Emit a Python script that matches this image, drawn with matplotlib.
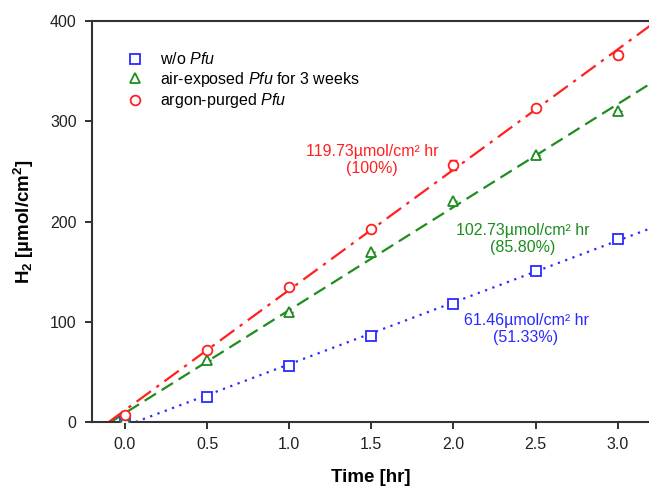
import numpy as np
import matplotlib
matplotlib.use("Agg")
import matplotlib.pyplot as plt

plt.rcParams['font.family'] = ['Liberation Sans', 'DejaVu Sans']
plt.rcParams['mathtext.fontset'] = 'custom'
plt.rcParams['mathtext.rm'] = 'Liberation Sans'
plt.rcParams['mathtext.it'] = 'Liberation Sans:italic'
plt.rcParams['mathtext.bf'] = 'Liberation Sans:bold'

# ---- data ----
time_hr = [0.0, 0.5, 1.0, 1.5, 2.0, 2.5, 3.0]
h2_wo_pfu = [0, 25, 56, 86, 118, 151, 183]
h2_air_pfu = [3, 62, 110, 170, 220, 266, 310]
h2_argon_pfu = [7, 72, 135, 193, 256, 313, 366]
err_wo_pfu = [2, 0, 0, 0, 0, 0, 0]
err_air_pfu = [2, 0, 0, 0, 0, 0, 0]
err_argon_pfu = [3, 0, 0, 0, 5, 0, 4]

labels = [r'w/o $\mathit{Pfu}$',
          r'air-exposed $\mathit{Pfu}$ for 3 weeks',
          r'argon-purged $\mathit{Pfu}$']
rate_texts = ['61.46\u00b5mol/cm\u00b2 hr\n(51.33%)',
              '102.73\u00b5mol/cm\u00b2 hr\n(85.80%)',
              '119.73\u00b5mol/cm\u00b2 hr\n(100%)']
x_ticks = [0.0, 0.5, 1.0, 1.5, 2.0, 2.5, 3.0]
y_ticks = [0, 100, 200, 300, 400]
y_label = 'H$_\\mathbf{2}$ [\u00b5mol/cm$^\\mathbf{2}$]'

colors = ['#2a2aff', '#1e8c1e', '#ff2020']
markers = ['s', '^', 'o']
linestyles = [(0, (1, 2.5)), (0, (6, 3)), (0, (8, 3, 1.5, 3))]

W, H = 649, 488
fig = plt.figure(figsize=(W / 100, H / 100), dpi=100)
ax = fig.add_axes([92 / W, 1 - 422 / H, (649 - 92) / W, (422 - 21) / H])

x = np.array(time_hr)
series = [h2_wo_pfu, h2_air_pfu, h2_argon_pfu]
errs = [err_wo_pfu, err_air_pfu, err_argon_pfu]
handles = []
for ys, e, c, m, ls, lab in zip(series, errs, colors, markers, linestyles, labels):
    ys = np.array(ys, dtype=float)
    k, b = np.polyfit(x, ys, 1)
    x0 = -b / k
    xf = np.linspace(x0, 3.4, 50)
    ax.plot(xf, k * xf + b, color=c, ls=ls, lw=1.6, zorder=2)
    ax.errorbar(x, ys, yerr=e, fmt='none', ecolor=c, elinewidth=1, capsize=3, zorder=3)
    h, = ax.plot(x, ys, ls='none', marker=m, ms=7, mfc='white', mec=c, mew=1.3,
                 zorder=4, label=lab)
    handles.append(h)

ax.set_xlim(-0.2, 3.19)
ax.set_ylim(0, 400)
ax.set_xticks(x_ticks)
ax.set_xticklabels([f'{t:.1f}' for t in x_ticks])
ax.set_yticks(y_ticks)
ax.tick_params(direction='out', length=5, width=1.3, labelsize=11.5, colors='#222222', pad=6)
ax.spines['right'].set_visible(False)
for s in ['left', 'bottom', 'top']:
    ax.spines[s].set_linewidth(1.5)
    ax.spines[s].set_color('#333333')

ax.set_xlabel('Time [hr]', fontsize=13.5, fontweight='bold', labelpad=12)
ax.set_ylabel(y_label, fontsize=13.5, fontweight='bold', labelpad=10)

leg = ax.legend(handles=handles, loc='upper left', bbox_to_anchor=(0.045, 0.944),
                frameon=False, fontsize=11.5, handlelength=1.2, handletextpad=1.0,
                labelspacing=0.15, borderpad=0)

text_pos = [(526, 329), (523, 239), (372, 160)]
for t, c, (px, py) in zip(rate_texts, colors, text_pos):
    fig.text(px / W, 1 - py / H, t, color=c, fontsize=11.5, ha='center', va='center',
             linespacing=1.15)

fig.savefig('out.png', dpi=100)
